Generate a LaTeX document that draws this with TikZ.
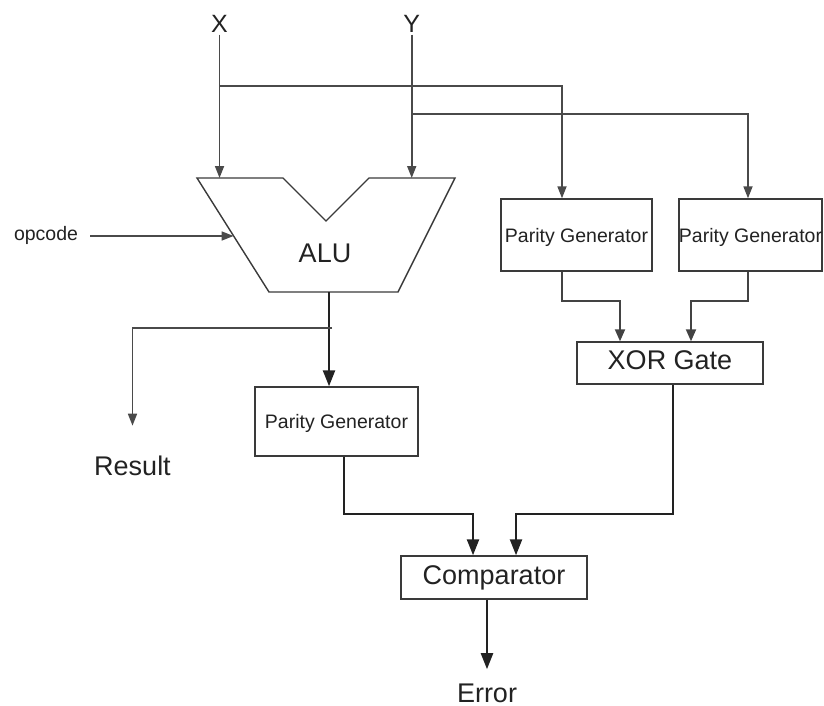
\documentclass[tikz,border=0pt]{standalone}
\usepackage{fontspec}
\setmainfont{Liberation Sans}
\usetikzlibrary{arrows.meta}
\definecolor{wirec}{HTML}{4A4A4A}
\definecolor{busc}{HTML}{222222}
\definecolor{inkc}{HTML}{222222}
\definecolor{edgec}{HTML}{3A3A3A}
\tikzset{
  smalltext/.style={font=\fontsize{19.5}{22}\selectfont, text=inkc},
  bigtext/.style={font=\fontsize{27}{30}\selectfont, text=inkc},
  wire/.style={draw=wirec, line width=1.7pt, -{Triangle[length=12pt,width=9pt]}},
  midwire/.style={draw=busc!85!white, line width=1.9pt, -{Triangle[length=12pt,width=10pt]}},
  bus/.style={draw=busc, line width=2.3pt, -{Triangle[length=16pt,width=12pt]}},
  block/.style={draw=edgec, line width=1.4pt, inner sep=0pt, fill=white},
  smallblock/.style={block, smalltext, text height=14pt, text depth=0pt},
  bigblock/.style={block, bigtext, text height=19.5pt, text depth=5.7pt},
  lbl/.style={anchor=base, inner sep=1.5pt}
}
\begin{document}
\begin{tikzpicture}[x=1pt, y=-1pt]
  \useasboundingbox (0,0) rectangle (824,706);

  % operand and control labels
  \node[lbl, font=\fontsize{25}{28}\selectfont, text=inkc] (xlbl) at (219.5,33) {X};
  \node[lbl, font=\fontsize{25}{28}\selectfont, text=inkc] (ylbl) at (411.7,33) {Y};
  \node[lbl, smalltext] (opc) at (46,240) {opcode};
  \node[lbl, bigtext] (res) at (132.5,475) {Result};
  \node[lbl, bigtext, inner sep=0pt] (err) at (487,702) {Error};

  % ALU outline (notched trapezoid)
  \coordinate (aluTL) at (197,178);
  \coordinate (aluN1) at (283,178);
  \coordinate (aluV)  at (326,221);
  \coordinate (aluN2) at (369,178);
  \coordinate (aluTR) at (455,178);
  \coordinate (aluBR) at (398,292);
  \coordinate (aluBL) at (269,292);
  \draw[draw=edgec, line width=1.4pt, line join=miter]
    (aluTL) -- (aluN1) -- (aluV) -- (aluN2) -- (aluTR) -- (aluBR) -- (aluBL) -- cycle;
  \node[lbl, bigtext] (alu) at (325,262) {ALU};

  % blocks
  \node[smallblock, minimum width=151pt, minimum height=72pt] (pg1) at (576.5,235) {Parity Generator};
  \node[smallblock, minimum width=143pt, minimum height=72pt] (pg2) at (750.5,235) {Parity Generator};
  \node[bigblock, minimum width=186pt, minimum height=42pt] (xor) at (670,363) {XOR Gate};
  \node[smallblock, minimum width=163pt, minimum height=69pt] (pg3) at (336.5,421.5) {Parity Generator};
  \node[bigblock, minimum width=186pt, minimum height=43pt] (cmp) at (494,577.5) {Comparator};

  % operand inputs into the ALU
  \draw[wire] (xlbl.south) -- (xlbl.south |- aluTL);
  \draw[wire] (ylbl.south) -- (ylbl.south |- aluTR);

  % operand taps to the parity generators
  \coordinate (xtap) at (219.5,86);
  \coordinate (ytap) at (411.7,114);
  \draw[wire] (xtap) -| ([xshift=-14.5pt]pg1.north);
  \draw[wire] (ytap) -| ([xshift=-2.5pt]pg2.north);

  % opcode input
  \coordinate (opcout) at (90,236);
  \coordinate (opcin) at (233.6,236);
  \draw[wire] (opcout) -- (opcin);

  % ALU result path
  \coordinate (aluout) at (329,292);
  \draw[bus] (aluout) -- (aluout |- pg3.north);
  \coordinate (rtap) at (332,328);
  \draw[wire] (rtap) -| ([yshift=28pt]res.north);

  % parity generators into the XOR gate
  \draw[midwire] ([xshift=-14.5pt]pg1.south) -- ++(0,29) -| ([xshift=-50pt]xor.north);
  \draw[midwire] ([xshift=-2.5pt]pg2.south) -- ++(0,29) -| ([xshift=21pt]xor.north);

  % into the comparator
  \draw[bus] ([xshift=7.5pt]pg3.south) -- ++(0,57) -| ([xshift=-21pt]cmp.north);
  \draw[bus] ([xshift=3pt]xor.south) -- ++(0,129) -| ([xshift=22pt]cmp.north);

  % error output
  \draw[bus] ([xshift=-7pt]cmp.south) -- ([yshift=14pt]err.north);
\end{tikzpicture}
\end{document}
